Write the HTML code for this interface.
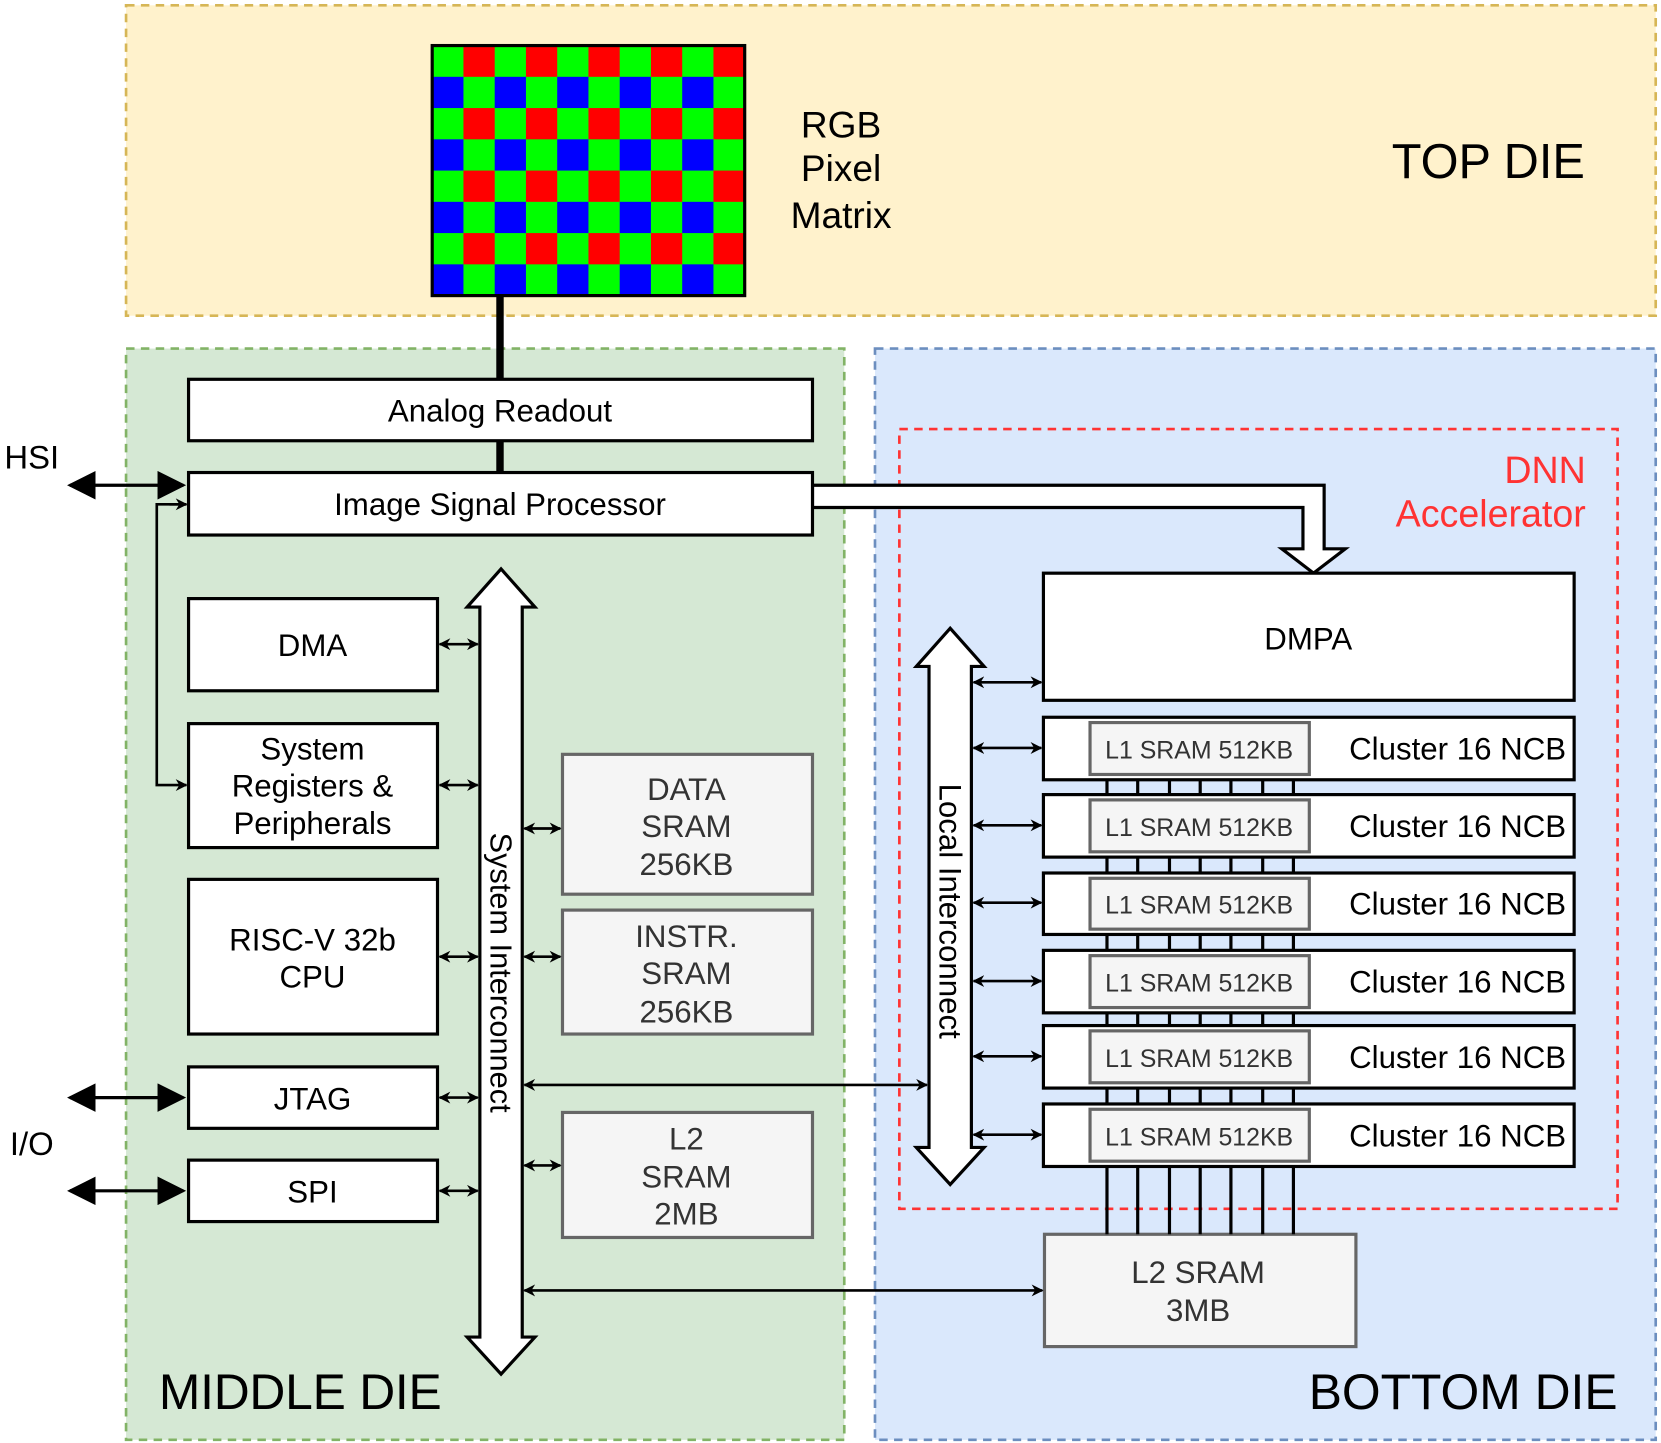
<!DOCTYPE html>
<html><head><meta charset="utf-8"><style>
html,body{margin:0;padding:0;background:#fff;}
svg{display:block;}
text{font-family:"Liberation Sans",Arial,sans-serif;}
</style></head><body>
<svg width="1661" height="1443" viewBox="0 0 1568 1362" preserveAspectRatio="none" xmlns="http://www.w3.org/2000/svg">
<defs>
<marker id="a" viewBox="0 0 10 10" refX="9" refY="5" markerWidth="4.5" markerHeight="4.5" orient="auto-start-reverse"><path d="M0,0 L10,5 L0,10 L3,5 z" fill="#000"/></marker>
<marker id="b" viewBox="0 0 10 10" refX="9" refY="5" markerWidth="9" markerHeight="9" orient="auto-start-reverse"><path d="M0,0 L10,5 L0,10 z" fill="#000"/></marker>
</defs>
<rect x="119" y="5" width="1444" height="293" fill="#fff2cc" stroke="#d6b656" stroke-width="2.5" stroke-dasharray="8,6"/>
<rect x="119" y="329" width="678" height="1030" fill="#d5e8d4" stroke="#82b366" stroke-width="2.5" stroke-dasharray="8,6"/>
<rect x="826" y="329" width="737" height="1030" fill="#dae8fc" stroke="#6c8ebf" stroke-width="2.5" stroke-dasharray="8,6"/>
<rect x="849" y="405" width="678" height="736" fill="none" stroke="#ff3333" stroke-width="2.5" stroke-dasharray="8,6"/>

<g id="pm">
<rect x="408" y="43" width="295" height="236" fill="#00ff00"/>
<g fill="#ff0000">
<rect x="437.5" y="43" width="29.5" height="29.5"/><rect x="496.5" y="43" width="29.5" height="29.5"/><rect x="555.5" y="43" width="29.5" height="29.5"/><rect x="614.5" y="43" width="29.5" height="29.5"/><rect x="673.5" y="43" width="29.5" height="29.5"/>
<rect x="437.5" y="102" width="29.5" height="29.5"/><rect x="496.5" y="102" width="29.5" height="29.5"/><rect x="555.5" y="102" width="29.5" height="29.5"/><rect x="614.5" y="102" width="29.5" height="29.5"/><rect x="673.5" y="102" width="29.5" height="29.5"/>
<rect x="437.5" y="161" width="29.5" height="29.5"/><rect x="496.5" y="161" width="29.5" height="29.5"/><rect x="555.5" y="161" width="29.5" height="29.5"/><rect x="614.5" y="161" width="29.5" height="29.5"/><rect x="673.5" y="161" width="29.5" height="29.5"/>
<rect x="437.5" y="220" width="29.5" height="29.5"/><rect x="496.5" y="220" width="29.5" height="29.5"/><rect x="555.5" y="220" width="29.5" height="29.5"/><rect x="614.5" y="220" width="29.5" height="29.5"/><rect x="673.5" y="220" width="29.5" height="29.5"/>
</g>
<g fill="#0000ff">
<rect x="408" y="72.5" width="29.5" height="29.5"/><rect x="467" y="72.5" width="29.5" height="29.5"/><rect x="526" y="72.5" width="29.5" height="29.5"/><rect x="585" y="72.5" width="29.5" height="29.5"/><rect x="644" y="72.5" width="29.5" height="29.5"/>
<rect x="408" y="131.5" width="29.5" height="29.5"/><rect x="467" y="131.5" width="29.5" height="29.5"/><rect x="526" y="131.5" width="29.5" height="29.5"/><rect x="585" y="131.5" width="29.5" height="29.5"/><rect x="644" y="131.5" width="29.5" height="29.5"/>
<rect x="408" y="190.5" width="29.5" height="29.5"/><rect x="467" y="190.5" width="29.5" height="29.5"/><rect x="526" y="190.5" width="29.5" height="29.5"/><rect x="585" y="190.5" width="29.5" height="29.5"/><rect x="644" y="190.5" width="29.5" height="29.5"/>
<rect x="408" y="249.5" width="29.5" height="29.5"/><rect x="467" y="249.5" width="29.5" height="29.5"/><rect x="526" y="249.5" width="29.5" height="29.5"/><rect x="585" y="249.5" width="29.5" height="29.5"/><rect x="644" y="249.5" width="29.5" height="29.5"/>
</g>
<rect x="408" y="43" width="295" height="236" fill="none" stroke="#000" stroke-width="3"/>
</g>
<text x="794" y="130" font-size="35" text-anchor="middle">RGB</text>
<text x="794" y="171" font-size="35" text-anchor="middle">Pixel</text>
<text x="794" y="215" font-size="35" text-anchor="middle">Matrix</text>
<text x="1405" y="168" font-size="46" text-anchor="middle">TOP DIE</text>

<line x1="472" y1="279" x2="472" y2="358" stroke="#000" stroke-width="7"/>
<line x1="472" y1="416" x2="472" y2="446" stroke="#000" stroke-width="7"/>

<path d="M767,458 L1250,458 L1250,518 L1270,518 L1240,541 L1210,518 L1230,518 L1230,479 L767,479 Z" fill="#fff" stroke="#000" stroke-width="3"/>

<g stroke="#000" stroke-width="3" fill="#fff">
<rect x="178" y="358" width="589" height="58"/>
<rect x="178" y="446" width="589" height="59"/>
<rect x="178" y="565" width="235" height="87"/>
<rect x="178" y="683" width="235" height="117"/>
<rect x="178" y="830" width="235" height="146"/>
<rect x="178" y="1007" width="235" height="58"/>
<rect x="178" y="1095" width="235" height="58"/>
</g>
<g stroke="#666" stroke-width="3" fill="#f5f5f5">
<rect x="531" y="712" width="236" height="132"/>
<rect x="531" y="859" width="236" height="117"/>
<rect x="531" y="1050" width="236" height="118"/>
<rect x="986" y="1165" width="294" height="106"/>
</g>
<g font-size="29.5" text-anchor="middle">
<text x="472" y="398">Analog Readout</text>
<text x="472" y="486">Image Signal Processor</text>
<text x="295" y="619">DMA</text>
<text x="295" y="717">System</text>
<text x="295" y="752">Registers &amp;</text>
<text x="295" y="787">Peripherals</text>
<text x="295" y="897">RISC-V 32b</text>
<text x="295" y="932">CPU</text>
<text x="295" y="1047">JTAG</text>
<text x="295" y="1135">SPI</text>
</g>
<g font-size="29.5" text-anchor="middle" fill="#333">
<text x="648" y="755">DATA</text><text x="648" y="790">SRAM</text><text x="648" y="826">256KB</text>
<text x="648" y="894">INSTR.</text><text x="648" y="929">SRAM</text><text x="648" y="965">256KB</text>
<text x="648" y="1085">L2</text><text x="648" y="1121">SRAM</text><text x="648" y="1156">2MB</text>
<text x="1131" y="1211">L2 SRAM</text><text x="1131" y="1247">3MB</text>
</g>

<text x="30" y="442" font-size="31" text-anchor="middle">HSI</text>
<text x="30" y="1090" font-size="31" text-anchor="middle">I/O</text>
<line x1="66" y1="458" x2="173" y2="458" stroke="#000" stroke-width="3" marker-start="url(#b)" marker-end="url(#b)"/>
<line x1="66" y1="1036" x2="173" y2="1036" stroke="#000" stroke-width="3" marker-start="url(#b)" marker-end="url(#b)"/>
<line x1="66" y1="1124" x2="173" y2="1124" stroke="#000" stroke-width="3" marker-start="url(#b)" marker-end="url(#b)"/>
<path d="M176,476 L148,476 L148,741 L176,741" fill="none" stroke="#000" stroke-width="2.5" marker-end="url(#a)"/>
<line x1="160" y1="476" x2="176" y2="476" stroke="#000" stroke-width="2.5" marker-end="url(#a)"/>

<path d="M453,573 L441,573 L473,537 L505,573 L493,573 L493,1262 L505,1262 L473,1297 L441,1262 L453,1262 Z" fill="#fff" stroke="#000" stroke-width="3"/>
<text transform="translate(463,918) rotate(90)" font-size="29" text-anchor="middle">System Interconnect</text>
<g stroke="#000" stroke-width="2.5" marker-start="url(#a)" marker-end="url(#a)">
<line x1="415" y1="608" x2="451" y2="608"/>
<line x1="415" y1="741" x2="451" y2="741"/>
<line x1="415" y1="903" x2="451" y2="903"/>
<line x1="415" y1="1036" x2="451" y2="1036"/>
<line x1="415" y1="1124" x2="451" y2="1124"/>
<line x1="495" y1="782" x2="529" y2="782"/>
<line x1="495" y1="903" x2="529" y2="903"/>
<line x1="495" y1="1100" x2="529" y2="1100"/>
<line x1="495" y1="1024" x2="875" y2="1024"/>
<line x1="495" y1="1218" x2="984" y2="1218"/>
</g>

<text x="1497" y="456" font-size="35.5" text-anchor="end" fill="#ff3333">DNN</text>
<text x="1497" y="497" font-size="35.5" text-anchor="end" fill="#ff3333">Accelerator</text>

<g stroke="#000" stroke-width="3">
<line x1="1045" y1="736" x2="1045" y2="1165"/>
<line x1="1074" y1="736" x2="1074" y2="1165"/>
<line x1="1104" y1="736" x2="1104" y2="1165"/>
<line x1="1133" y1="736" x2="1133" y2="1165"/>
<line x1="1162" y1="736" x2="1162" y2="1165"/>
<line x1="1192" y1="736" x2="1192" y2="1165"/>
<line x1="1221" y1="736" x2="1221" y2="1165"/>
</g>
<rect x="985" y="541" width="501" height="120" fill="#fff" stroke="#000" stroke-width="3"/>
<text x="1235" y="613" font-size="29.5" text-anchor="middle">DMPA</text>
<g id="cl">
<g stroke-width="3">
<rect x="985" y="677" width="501" height="59" fill="#fff" stroke="#000"/><rect x="1029" y="682" width="207" height="49" fill="#f5f5f5" stroke="#666"/>
<rect x="985" y="750" width="501" height="59" fill="#fff" stroke="#000"/><rect x="1029" y="755" width="207" height="49" fill="#f5f5f5" stroke="#666"/>
<rect x="985" y="824" width="501" height="58" fill="#fff" stroke="#000"/><rect x="1029" y="829" width="207" height="48" fill="#f5f5f5" stroke="#666"/>
<rect x="985" y="897" width="501" height="59" fill="#fff" stroke="#000"/><rect x="1029" y="902" width="207" height="49" fill="#f5f5f5" stroke="#666"/>
<rect x="985" y="968" width="501" height="59" fill="#fff" stroke="#000"/><rect x="1029" y="973" width="207" height="49" fill="#f5f5f5" stroke="#666"/>
<rect x="985" y="1042" width="501" height="59" fill="#fff" stroke="#000"/><rect x="1029" y="1047" width="207" height="49" fill="#f5f5f5" stroke="#666"/>
</g>
<g font-size="23.5" text-anchor="middle" fill="#333">
<text x="1132" y="716">L1 SRAM 512KB</text><text x="1132" y="789">L1 SRAM 512KB</text><text x="1132" y="862">L1 SRAM 512KB</text>
<text x="1132" y="936">L1 SRAM 512KB</text><text x="1132" y="1007">L1 SRAM 512KB</text><text x="1132" y="1081">L1 SRAM 512KB</text>
</g>
<g font-size="29.5" text-anchor="middle">
<text x="1376" y="717">Cluster 16 NCB</text><text x="1376" y="790">Cluster 16 NCB</text><text x="1376" y="863">Cluster 16 NCB</text>
<text x="1376" y="937">Cluster 16 NCB</text><text x="1376" y="1008">Cluster 16 NCB</text><text x="1376" y="1082">Cluster 16 NCB</text>
</g>
</g>

<path d="M877,629 L865,629 L897,593 L929,629 L917,629 L917,1083 L929,1083 L897,1118 L865,1083 L877,1083 Z" fill="#fff" stroke="#000" stroke-width="3"/>
<text transform="translate(887,860) rotate(90)" font-size="29.5" text-anchor="middle">Local Interconnect</text>
<g stroke="#000" stroke-width="2.5" marker-start="url(#a)" marker-end="url(#a)">
<line x1="919" y1="644" x2="983" y2="644"/>
<line x1="919" y1="706" x2="983" y2="706"/>
<line x1="919" y1="779" x2="983" y2="779"/>
<line x1="919" y1="852" x2="983" y2="852"/>
<line x1="919" y1="926" x2="983" y2="926"/>
<line x1="919" y1="997" x2="983" y2="997"/>
<line x1="919" y1="1071" x2="983" y2="1071"/>
</g>

<text x="150" y="1330" font-size="47" textLength="267">MIDDLE DIE</text>
<text x="1527" y="1330" font-size="47" text-anchor="end">BOTTOM DIE</text>
</svg>
</body></html>
